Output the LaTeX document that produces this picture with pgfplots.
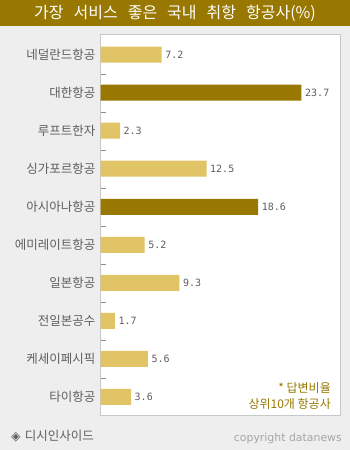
\documentclass[border=0pt]{standalone}
\usepackage{fontspec}
\usepackage{pgfplots}
\pgfplotsset{compat=1.18}
\setmainfont{DejaVu Sans}
\newfontfamily\kr{Noto Sans CJK KR}
\newfontfamily\mono{DejaVu Sans Mono}
\newfontfamily\dvs{DejaVu Sans}
\definecolor{gold}{HTML}{987800}
\definecolor{lightgold}{HTML}{E0C466}
\definecolor{bg}{HTML}{EEEEEE}
\definecolor{txt}{HTML}{5E5E5E}
\definecolor{frame}{HTML}{C8C8C8}
\begin{document}
\begin{tikzpicture}[x=1pt,y=1pt]
\fill[bg] (0,0) rectangle (350,-450);
\useasboundingbox (0,0) rectangle (350,-450);
\fill[gold] (0,0) rectangle (350,-26);
\node[white, font=\kr\fontsize{16}{16}\selectfont, inner sep=0pt] at (175,-13) {가장\hspace{10pt}서비스\hspace{10pt}좋은\hspace{10pt}국내\hspace{10pt}취항\hspace{10pt}항공사(\%)};
\begin{axis}[at={(100.5pt,-34.5pt)}, anchor=north west, scale only axis,
  width=240pt, height=381pt,
  xbar, bar width=16pt, bar shift=0pt,
  xmin=0, xmax=28.3, ymin=-0.53, ymax=9.49, y dir=reverse,
  axis background/.style={fill=white},
  axis line style={frame},
  xtick=\empty, ytick={0,...,9},
  yticklabels={네덜란드항공,대한항공,루프트한자,싱가포르항공,아시아나항공,에미레이트항공,일본항공,전일본공수,케세이페시픽,타이항공},
  minor ytick={0.5,1.5,...,8.5}, major tick length=0pt, minor tick length=5pt,
  tick align=inside, ytick pos=left,
  minor tick style={color=black!45},
  yticklabel style={font=\kr\fontsize{12.5}{12.5}\selectfont, text=txt, inner sep=0pt, xshift=-5pt},
  nodes near coords,
  nodes near coords style={font=\mono\fontsize{10}{10}\selectfont, text=txt, anchor=west, inner sep=0pt, xshift=3.5pt},
  /pgf/number format/.cd, fixed, fixed zerofill, precision=1, assume math mode=true,
]
\addplot[fill=lightgold, draw=none] coordinates {(7.2,0) (2.3,2) (12.5,3) (5.2,5) (9.3,6) (1.7,7) (5.6,8) (3.6,9)};
\addplot[fill=gold, draw=none] coordinates {(23.7,1) (18.6,4)};
\end{axis}
\node[anchor=east, text=gold, font=\kr\fontsize{12}{12}\selectfont, inner sep=0pt] at (331,-388) {* 답변비율};
\node[anchor=east, text=gold, font=\kr\fontsize{12}{12}\selectfont, inner sep=0pt] at (331,-404) {상위10개 항공사};
\node[anchor=west, text=txt, inner sep=0pt] at (11,-436) {{\dvs\fontsize{12.5}{12}\selectfont ◈}\hspace{4pt}{\kr\fontsize{12.5}{12}\selectfont 디시인사이드}};
\node[anchor=east, text=black!35, font=\dvs\fontsize{10.9}{11}\selectfont, inner sep=0pt] at (342,-438) {copyright datanews};
\end{tikzpicture}
\end{document}
